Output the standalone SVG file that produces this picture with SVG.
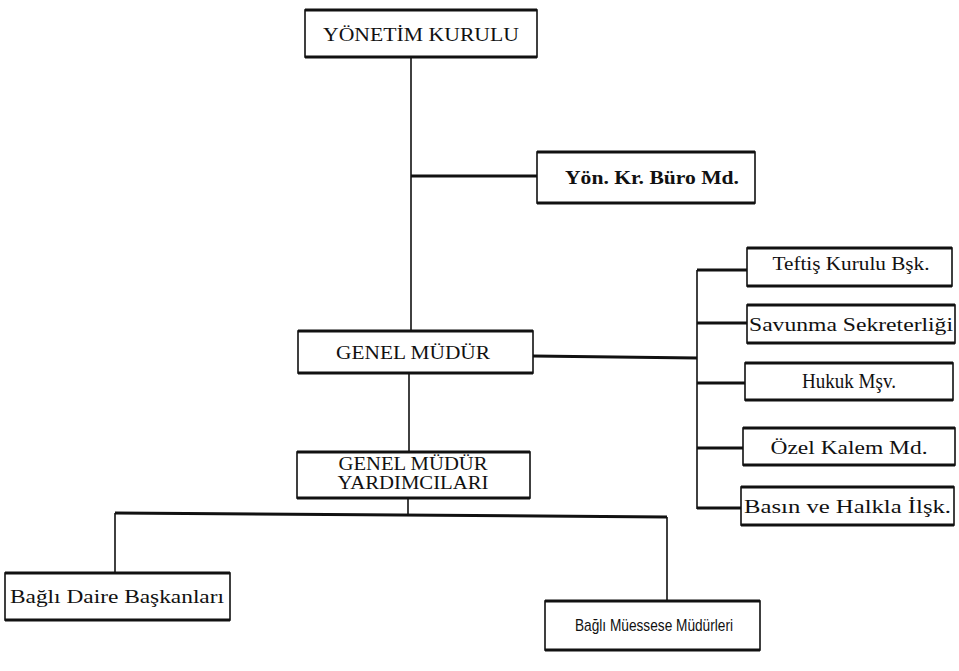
<svg xmlns="http://www.w3.org/2000/svg" width="959" height="671" viewBox="0 0 959 671">
<style>
.bx{fill:#fff;stroke:#111;stroke-width:1.6}
.tb{stroke:#111;stroke-width:3;fill:none}
.ln{stroke:#111;fill:none}
.h{stroke-width:3}
.v{stroke-width:1.6}
.t{font-family:"Liberation Serif","DejaVu Serif",serif;fill:#111}
.c{text-anchor:middle}
.b{font-weight:bold}
.s{font-family:"Liberation Sans Narrow","Liberation Sans",Arial,sans-serif}
</style>
<rect width="959" height="671" fill="#fff"/>
<g id="connectors">
<path class="ln v" d="M411 57 V331"/>
<path class="ln h" d="M411 176 H537"/>
<path class="ln h" d="M533 356 L697 358"/>
<path class="ln v" d="M697 270 V509"/>
<path class="ln h" d="M697 270 H747"/>
<path class="ln h" d="M697 323 H747"/>
<path class="ln h" d="M697 383 H745"/>
<path class="ln h" d="M697 448 H743"/>
<path class="ln h" d="M697 508 H741"/>
<path class="ln v" d="M409 373 V452"/>
<path class="ln v" d="M408 498 V514"/>
<path class="ln h" d="M115 513 L667 517"/>
<path class="ln v" d="M115 513 V573"/>
<path class="ln v" d="M667 517 V601"/>
</g>
<g id="yonetim-kurulu">
<rect class="bx" x="305" y="10" width="232" height="47"/>
<path class="tb" d="M305 10 H537 M305 57 H537"/>
<text class="t c" x="421" y="41" font-size="19" textLength="196" lengthAdjust="spacingAndGlyphs">YÖNETİM KURULU</text>
</g>
<g id="buro-md">
<rect class="bx" x="537" y="152" width="218" height="51"/>
<path class="tb" d="M537 152 H755 M537 203 H755"/>
<text class="t c b" x="652" y="184" font-size="19" textLength="174" lengthAdjust="spacingAndGlyphs">Yön. Kr. Büro Md.</text>
</g>
<g id="genel-mudur">
<rect class="bx" x="298" y="331" width="235" height="42"/>
<path class="tb" d="M298 331 H533 M298 373 H533"/>
<text class="t c" x="413" y="359" font-size="19" textLength="154" lengthAdjust="spacingAndGlyphs">GENEL MÜDÜR</text>
</g>
<g id="teftis">
<rect class="bx" x="747" y="248" width="205" height="38"/>
<path class="tb" d="M747 248 H952 M747 286 H952"/>
<text class="t c" x="851" y="270" font-size="19" textLength="157" lengthAdjust="spacingAndGlyphs">Teftiş Kurulu Bşk.</text>
</g>
<g id="savunma">
<rect class="bx" x="747" y="305" width="208" height="38"/>
<path class="tb" d="M747 305 H955 M747 343 H955"/>
<text class="t" x="749" y="331" font-size="19" textLength="204" lengthAdjust="spacingAndGlyphs">Savunma Sekreterliği</text>
</g>
<g id="hukuk">
<rect class="bx" x="745" y="363" width="208" height="37"/>
<path class="tb" d="M745 363 H953 M745 400 H953"/>
<text class="t c" x="849" y="388" font-size="20" textLength="94" lengthAdjust="spacingAndGlyphs">Hukuk Mşv.</text>
</g>
<g id="ozel-kalem">
<rect class="bx" x="743" y="428" width="212" height="37"/>
<path class="tb" d="M743 428 H955 M743 465 H955"/>
<text class="t c" x="849" y="454" font-size="19" textLength="157" lengthAdjust="spacingAndGlyphs">Özel Kalem Md.</text>
</g>
<g id="basin">
<rect class="bx" x="741" y="487" width="213" height="38"/>
<path class="tb" d="M741 487 H954 M741 525 H954"/>
<text class="t" x="744" y="513" font-size="19" textLength="207" lengthAdjust="spacingAndGlyphs">Basın ve Halkla İlşk.</text>
</g>
<g id="gm-yardimcilari">
<rect class="bx" x="297" y="452" width="233" height="46"/>
<path class="tb" d="M297 452 H530 M297 498 H530"/>
<text class="t c" x="413" y="470" font-size="18" textLength="149" lengthAdjust="spacingAndGlyphs">GENEL MÜDÜR</text>
<text class="t c" x="413" y="489" font-size="18" textLength="151" lengthAdjust="spacingAndGlyphs">YARDIMCILARI</text>
</g>
<g id="daire-baskanlari">
<rect class="bx" x="5" y="573" width="225" height="47"/>
<path class="tb" d="M5 573 H230 M5 620 H230"/>
<text class="t" x="10" y="603" font-size="19" textLength="214" lengthAdjust="spacingAndGlyphs">Bağlı Daire Başkanları</text>
</g>
<g id="muessese-mudurleri">
<rect class="bx" x="545" y="601" width="215" height="49"/>
<path class="tb" d="M545 601 H760 M545 650 H760"/>
<text class="t c s" x="654" y="631" font-size="17" textLength="158" lengthAdjust="spacingAndGlyphs">Bağlı Müessese Müdürleri</text>
</g>
</svg>
